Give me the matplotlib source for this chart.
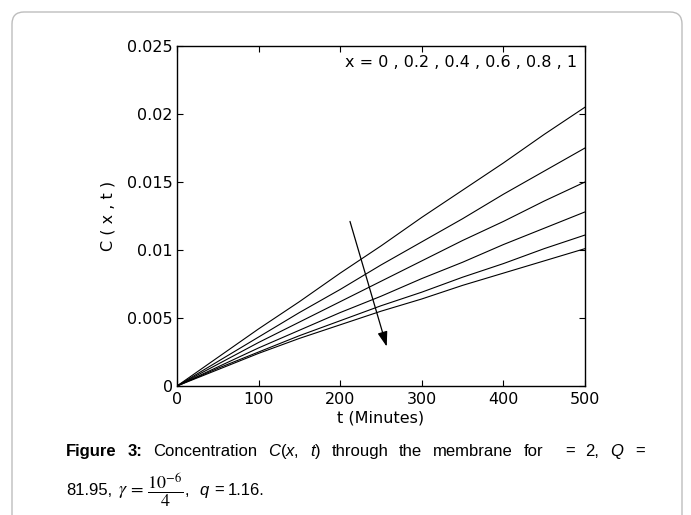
import matplotlib
matplotlib.use("Agg")
import matplotlib.pyplot as plt
from matplotlib.patches import FancyBboxPatch

plt.rcParams['font.family'] = ['DejaVu Sans']
plt.rcParams['mathtext.fontset'] = 'custom'
plt.rcParams['mathtext.rm'] = 'Liberation Sans'
plt.rcParams['mathtext.it'] = 'Liberation Sans:italic'
plt.rcParams['mathtext.bf'] = 'Liberation Sans:bold'

# Data
t = [0, 50, 100, 150, 200, 250, 300, 350, 400, 450, 500]
c_x0 = [0, 0.0021, 0.0042, 0.0062, 0.0083, 0.0103, 0.0124, 0.0144, 0.0164, 0.0185, 0.0205]
c_x02 = [0, 0.0018, 0.0036, 0.0054, 0.0071, 0.0089, 0.0106, 0.0123, 0.0141, 0.0158, 0.0175]
c_x04 = [0, 0.0016, 0.0032, 0.0047, 0.0062, 0.0077, 0.0092, 0.0107, 0.0121, 0.0136, 0.0150]
c_x06 = [0, 0.0014, 0.0028, 0.0041, 0.0054, 0.0066, 0.0079, 0.0091, 0.0104, 0.0116, 0.0128]
c_x08 = [0, 0.0013, 0.0025, 0.0037, 0.0048, 0.0059, 0.0069, 0.0080, 0.0090, 0.0101, 0.0111]
c_x1 = [0, 0.0012, 0.0024, 0.0035, 0.0045, 0.0055, 0.0064, 0.0074, 0.0083, 0.0092, 0.0101]
curves = [c_x0, c_x02, c_x04, c_x06, c_x08, c_x1]

x_ticks = [0, 100, 200, 300, 400, 500]
y_ticks = [0, 0.005, 0.01, 0.015, 0.02, 0.025]
y_ticklabels = ['0', '0.005', '0.01', '0.015', '0.02', '0.025']

W, H = 691, 515
fig = plt.figure(figsize=(W / 100, H / 100), dpi=100)

# rounded grey frame around the figure + caption
frame = FancyBboxPatch((0.12, -0.6), 6.70, 5.63, boxstyle="round,pad=0,rounding_size=0.12",
                       transform=fig.dpi_scale_trans, facecolor='none',
                       edgecolor='#bdbdbd', linewidth=1.0, zorder=-1)
fig.patches.append(frame)

ax = fig.add_axes([177 / W, 1 - 386 / H, (585 - 177) / W, (386 - 46) / H])
for c in curves:
    ax.plot(t, c, color='black', linewidth=0.8)

ax.set_xlim(0, 500)
ax.set_ylim(0, 0.025)
ax.set_xticks(x_ticks)
ax.set_yticks(y_ticks)
ax.set_yticklabels(y_ticklabels)
ax.tick_params(direction='in', top=True, right=True, length=4, width=0.8,
               labelsize=11.5, pad=4)
ax.tick_params(axis='y', pad=3)
for s in ax.spines.values():
    s.set_linewidth(1.0)
ax.set_xlabel('t (Minutes)', fontsize=11.5, labelpad=3)
ax.set_ylabel('C ( x , t )', fontsize=11.5, labelpad=8)

ax.text(206, 0.0238, 'x = 0 , 0.2 , 0.4 , 0.6 , 0.8 , 1', fontsize=11.5, va='center')
ax.annotate('', xy=(257, 0.0029), xytext=(212, 0.0121),
            arrowprops=dict(arrowstyle='-|>,head_length=0.9,head_width=0.3',
                            color='black', lw=0.9, shrinkA=0, shrinkB=0))

# caption (first line justified)
r = fig.canvas.get_renderer()
cap_font = 'Liberation Sans'
cap_size = 12


def line_of(chunks, x0, y, x1=None, gaps=None):
    texts = []
    for s, kw in chunks:
        kw = dict(kw)
        size = kw.pop('size', cap_size)
        texts.append(fig.text(0, y, s, fontsize=size, va='baseline',
                              family=cap_font, **kw))
    widths = [tx.get_window_extent(r).width for tx in texts]
    if x1 is not None:
        g = (x1 - x0 - sum(widths)) / (len(texts) - 1)
        gaps = [g] * len(texts)
    x = x0
    for tx, w, g in zip(texts, widths, gaps):
        tx.set_x(x / W)
        x += w + g


bold = dict(fontweight='bold')
norm = dict()
line1 = [('Figure', bold), ('3:', bold), ('Concentration', norm), ('$C$($x$,', norm),
         ('$t$)', norm), ('through', norm), ('the', norm), ('membrane', norm),
         ('for', norm), ('', norm), ('=', norm), ('2,', norm), ('$Q$', norm), ('=', norm)]
line_of(line1, 66, 1 - 456 / H, x1=645)

line2 = [('81.95,', norm),
         (r'$\gamma\,=\,\dfrac{10^{-6}}{4}$', dict(math_fontfamily='stix', size=13)),
         (',', norm), ('$q$', norm), ('=', norm), ('1.16.', norm)]
line_of(line2, 66, 1 - 495 / H, gaps=[6, 1, 10, 4, 4, 0])

fig.savefig('out.png', dpi=100)
